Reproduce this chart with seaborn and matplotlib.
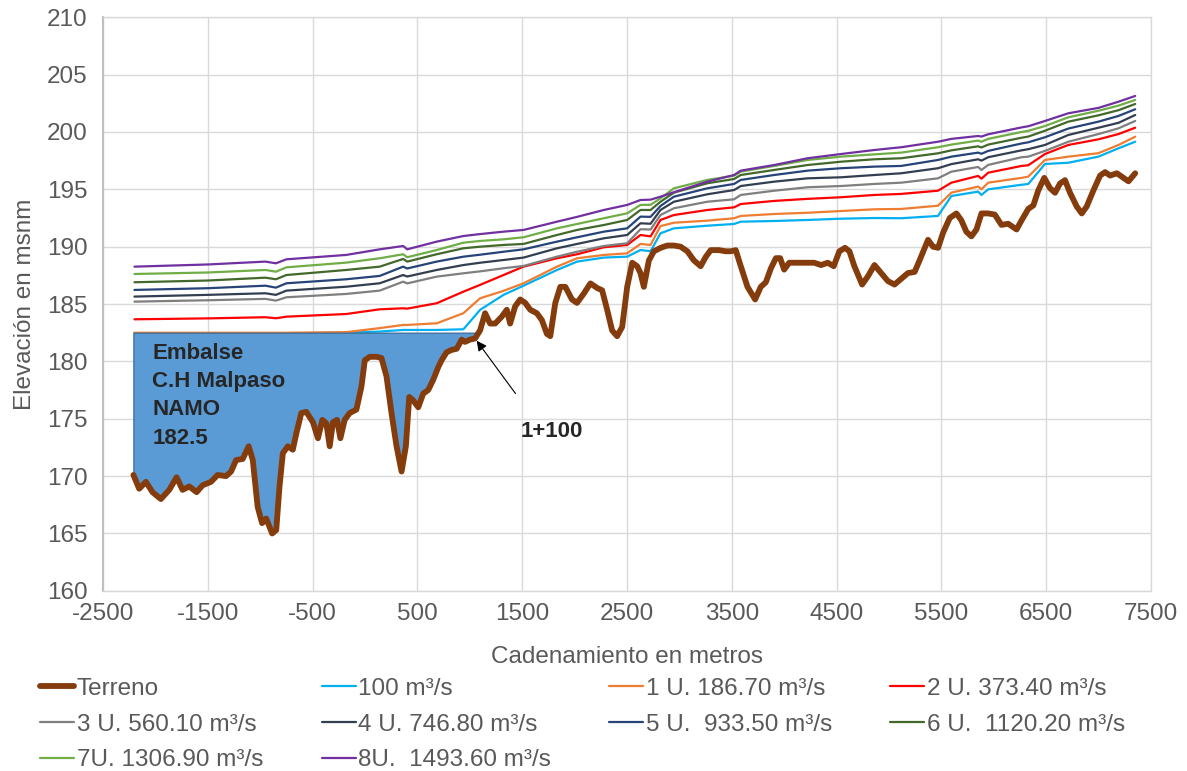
import matplotlib
matplotlib.use("Agg")
import matplotlib.pyplot as plt
import seaborn as sns
import pandas as pd
import numpy as np

# terreno natural: cadenamiento (m) y elevacion (msnm)
terreno_x = [-2210, -2155, -2091, -2028, -1948, -1868, -1798, -1741, -1677, -1607,
             -1550, -1470, -1406, -1326, -1278, -1230, -1167, -1110, -1071, -1024,
             -982, -943, -886, -847, -816, -784, -736, -689, -656, -608,
             -560, -497, -449, -407, -369, -337, -306, -267, -235, -194,
             -146, -82, -34, -2, 45, 110, 157, 205, 253, 301,
             349, 390, 422, 460, 508, 556, 603, 651, 699, 731,
             779, 827, 875, 923, 954, 1002, 1050, 1098, 1146, 1194,
             1242, 1305, 1353, 1385, 1433, 1481, 1529, 1577, 1640, 1688,
             1736, 1768, 1816, 1864, 1912, 1975, 2023, 2087, 2151, 2215,
             2263, 2311, 2358, 2406, 2454, 2502, 2550, 2597, 2629, 2661,
             2709, 2757, 2821, 2885, 2948, 3012, 3076, 3139, 3203, 3251,
             3299, 3378, 3442, 3490, 3538, 3586, 3650, 3723, 3777, 3825,
             3873, 3921, 3962, 4000, 4048, 4128, 4224, 4287, 4352, 4416,
             4473, 4527, 4581, 4623, 4670, 4744, 4798, 4862, 4926, 4990,
             5053, 5117, 5181, 5245, 5292, 5373, 5421, 5469, 5516, 5580,
             5644, 5691, 5739, 5787, 5835, 5883, 5947, 6010, 6074, 6138,
             6218, 6266, 6330, 6378, 6425, 6482, 6537, 6585, 6632, 6680,
             6728, 6792, 6840, 6887, 6951, 7015, 7063, 7111, 7175, 7238,
             7286, 7350]
terreno_z = [170.1, 168.9, 169.5, 168.6, 168.0, 168.8, 169.9, 168.8, 169.1, 168.6,
             169.2, 169.5, 170.1, 170.0, 170.4, 171.4, 171.5, 172.6, 171.4, 167.3,
             165.9, 166.3, 165.0, 165.3, 169.1, 172.0, 172.6, 172.3, 173.7, 175.5,
             175.6, 174.7, 173.3, 174.9, 174.6, 172.6, 174.7, 174.9, 173.3, 174.9,
             175.5, 175.8, 177.8, 180.1, 180.4, 180.4, 180.3, 178.7, 175.5, 172.6,
             170.4, 172.6, 176.9, 176.6, 176.0, 177.2, 177.5, 178.4, 179.5, 180.1,
             180.8, 181.0, 181.1, 181.9, 181.7, 181.9, 182.0, 182.7, 184.2, 183.3,
             183.3, 183.9, 184.5, 183.3, 184.8, 185.4, 185.1, 184.5, 184.2, 183.6,
             182.4, 182.2, 185.1, 186.5, 186.5, 185.4, 185.1, 185.9, 186.8, 186.4,
             186.2, 184.5, 182.7, 182.2, 183.0, 186.5, 188.6, 188.3, 187.7, 186.5,
             188.8, 189.6, 189.9, 190.1, 190.1, 190.0, 189.6, 188.8, 188.3, 189.1,
             189.7, 189.7, 189.6, 189.6, 189.7, 188.3, 186.5, 185.4, 186.5, 186.9,
             188.1, 189.0, 189.0, 188.0, 188.6, 188.6, 188.6, 188.6, 188.4, 188.6,
             188.3, 189.6, 189.9, 189.6, 188.3, 186.7, 187.4, 188.4, 187.7, 187.0,
             186.7, 187.2, 187.7, 187.8, 188.8, 190.6, 190.0, 189.9, 191.2, 192.5,
             192.9, 192.3, 191.3, 190.9, 191.5, 192.9, 192.9, 192.8, 191.9, 192.0,
             191.5, 192.3, 193.3, 193.6, 194.9, 196.0, 195.1, 194.7, 195.5, 195.8,
             194.7, 193.5, 192.9, 193.5, 194.9, 196.2, 196.5, 196.2, 196.4, 196.0,
             195.7, 196.4]

# perfiles de la superficie libre del agua
ws_x = [-2200, -1500, -950, -850, -750, -180, 140, 364, 403, 684,
        939, 1098, 1322, 1513, 1832, 2024, 2279, 2502, 2629, 2725,
        2820, 2948, 3267, 3522, 3586, 3905, 4224, 4543, 4862, 5117,
        5468, 5596, 5851, 5883, 5947, 6266, 6330, 6489, 6712, 6999,
        7191, 7350]
q_100 = [182.45, 182.45, 182.45, 182.45, 182.45, 182.5, 182.6, 182.74, 182.74, 182.74,
         182.8, 184.49, 185.8, 186.6, 187.97, 188.7, 189.05, 189.13, 189.71, 189.6,
         191.17, 191.6, 191.83, 191.98, 192.18, 192.24, 192.33, 192.44, 192.5, 192.48,
         192.68, 194.42, 194.8, 194.51, 195.0, 195.4, 195.47, 197.21, 197.32, 197.85,
         198.58, 199.15]
u1 = [182.5, 182.5, 182.5, 182.5, 182.5, 182.55, 182.9, 183.18, 183.18, 183.32,
      184.2, 185.5, 186.15, 186.81, 188.26, 188.99, 189.28, 189.42, 190.24, 190.15,
      191.8, 192.09, 192.27, 192.48, 192.68, 192.85, 192.96, 193.11, 193.26, 193.29,
      193.57, 194.71, 195.24, 195.0, 195.58, 196.0, 196.11, 197.56, 197.85, 198.15,
      198.87, 199.59]
u2 = [183.67, 183.75, 183.85, 183.76, 183.9, 184.13, 184.54, 184.63, 184.6, 185.07,
      186.08, 186.67, 187.53, 188.26, 188.99, 189.34, 189.95, 190.15, 191.02, 190.9,
      192.33, 192.76, 193.2, 193.43, 193.72, 193.99, 194.17, 194.31, 194.51, 194.6,
      194.88, 195.58, 196.17, 195.93, 196.45, 197.04, 197.1, 198.08, 198.87, 199.36,
      199.82, 200.37]
u3 = [185.21, 185.33, 185.45, 185.3, 185.59, 185.88, 186.17, 186.95, 186.8, 187.39,
      187.68, 187.85, 188.12, 188.32, 189.13, 189.56, 190.06, 190.3, 191.52, 191.5,
      192.76, 193.35, 193.92, 194.13, 194.51, 194.88, 195.18, 195.29, 195.47, 195.58,
      195.96, 196.54, 196.95, 196.69, 197.13, 197.8, 197.85, 198.35, 199.15, 199.82,
      200.32, 200.96]
u4 = [185.65, 185.8, 185.94, 185.8, 186.17, 186.51, 186.81, 187.53, 187.4, 187.97,
      188.4, 188.6, 188.84, 189.05, 189.86, 190.24, 190.73, 191.02, 192.04, 192.0,
      193.2, 193.92, 194.57, 194.94, 195.29, 195.67, 195.96, 196.05, 196.25, 196.4,
      196.84, 197.2, 197.62, 197.5, 197.8, 198.4, 198.5, 198.87, 199.74, 200.37,
      200.8, 201.48]
u5 = [186.23, 186.38, 186.6, 186.43, 186.81, 187.16, 187.45, 188.26, 188.1, 188.7,
      189.13, 189.3, 189.56, 189.77, 190.44, 190.82, 191.31, 191.6, 192.62, 192.6,
      193.55, 194.36, 195.09, 195.47, 195.82, 196.25, 196.63, 196.84, 196.98, 197.04,
      197.56, 197.85, 198.2, 198.1, 198.35, 199.0, 199.1, 199.54, 200.3, 200.9,
      201.4, 201.98]
u6 = [186.9, 187.05, 187.3, 187.16, 187.53, 187.97, 188.26, 188.93, 188.7, 189.34,
      189.86, 190.0, 190.15, 190.24, 191.02, 191.46, 191.89, 192.33, 193.2, 193.2,
      193.92, 194.71, 195.53, 195.9, 196.25, 196.69, 197.12, 197.41, 197.62, 197.71,
      198.14, 198.4, 198.75, 198.65, 198.9, 199.5, 199.6, 200.11, 200.9, 201.45,
      201.9, 202.44]
u7 = [187.62, 187.75, 187.97, 187.82, 188.2, 188.61, 188.99, 189.34, 189.08, 189.71,
      190.35, 190.5, 190.64, 190.82, 191.6, 191.98, 192.48, 192.91, 193.64, 193.65,
      194.22, 195.09, 195.82, 196.19, 196.54, 197.04, 197.56, 197.85, 198.05, 198.2,
      198.67, 198.9, 199.25, 199.15, 199.4, 200.0, 200.1, 200.52, 201.28, 201.85,
      202.3, 202.79]
u8 = [188.26, 188.45, 188.7, 188.55, 188.9, 189.28, 189.77, 190.06, 189.77, 190.44,
      190.93, 191.1, 191.31, 191.46, 192.18, 192.6, 193.2, 193.64, 194.07, 194.1,
      194.36, 194.75, 195.67, 196.25, 196.63, 197.12, 197.71, 198.08, 198.43, 198.67,
      199.15, 199.4, 199.65, 199.6, 199.8, 200.4, 200.5, 200.96, 201.63, 202.1,
      202.64, 203.14]

perfiles = ["100 m³/s", "1 U. 186.70 m³/s", "2 U. 373.40 m³/s", "3 U. 560.10 m³/s",
            "4 U. 746.80 m³/s", "5 U.  933.50 m³/s", "6 U.  1120.20 m³/s",
            "7U. 1306.90 m³/s", "8U.  1493.60 m³/s"]
colores = ["#00B0F0", "#ED7D31", "#FF0000", "#7F7F7F", "#333F50",
           "#264478", "#43682B", "#70AD47", "#7030A0"]

NAMO = 182.5

df_agua = pd.DataFrame(dict(zip(perfiles, [q_100, u1, u2, u3, u4, u5, u6, u7, u8])))
df_agua["x"] = ws_x
df_terreno = pd.DataFrame({"x": terreno_x, "z": terreno_z})

sns.set_style("whitegrid")
plt.rcParams["font.family"] = ["Liberation Sans", "DejaVu Sans"]
plt.rcParams["axes.unicode_minus"] = False
gris = "#595959"

fig, ax = plt.subplots(figsize=(11.87, 7.71), dpi=100)
fig.subplots_adjust(left=0.0868, right=0.9696, top=0.9776, bottom=0.2337)

for nombre, c in zip(perfiles, colores):
    sns.lineplot(data=df_agua, x="x", y=nombre, ax=ax, color=c, lw=1.6,
                 label=nombre, zorder=2)

# embalse hasta el NAMO
xt = df_terreno["x"].to_numpy()
zt = df_terreno["z"].to_numpy()
ax.fill_between(xt, zt, NAMO, where=(xt <= 1100) & (zt <= NAMO), interpolate=True,
                facecolor="#5B9BD5", edgecolor="#41719C", lw=1, zorder=3)

sns.lineplot(data=df_terreno, x="x", y="z", ax=ax, color="#843C0C", lw=4.2,
             label="Terreno", zorder=4, solid_joinstyle="round",
             solid_capstyle="round")

ax.text(-2030, 181.6, "Embalse\nC.H Malpaso\nNAMO\n182.5", fontsize=16,
        fontweight="bold", va="top", ha="left", linespacing=1.45, zorder=5)
ax.annotate("", xy=(1050, 182.0), xytext=(1452, 177.0), zorder=5,
            arrowprops=dict(arrowstyle="-|>", color="black", lw=0.8,
                            mutation_scale=15))
ax.text(1778, 173.9, "1+100", fontsize=16, fontweight="bold", ha="center",
        va="center", zorder=5)

ax.set_xlim(-2500, 7500)
ax.set_ylim(160, 210)
ax.set_xticks(range(-2500, 7501, 1000))
ax.set_yticks(range(160, 211, 5))
ax.tick_params(axis="both", length=0, labelsize=17.5, labelcolor=gris)
ax.tick_params(axis="y", pad=11)
ax.tick_params(axis="x", pad=9)
ax.grid(color="#D9D9D9", lw=1)
for s in ax.spines.values():
    s.set_color("#D9D9D9")
    s.set_linewidth(1)
ax.spines["left"].set_color("#BFBFBF")
ax.spines["left"].set_linewidth(1.5)

ax.set_xlabel("Cadenamiento en metros", fontsize=17.5, color=gris, labelpad=15)
ax.set_ylabel("Elevación en msnm", fontsize=17.5, color=gris, labelpad=8)

# leyenda en 4 columnas, ordenada por filas
handles, labels = ax.get_legend_handles_labels()
ax.get_legend().remove()
por_nombre = dict(zip(labels, handles))
orden = ["Terreno", perfiles[3], perfiles[7], perfiles[0], perfiles[4], perfiles[8],
         perfiles[1], perfiles[5], perfiles[2], perfiles[6]]
fig.legend([por_nombre[n] for n in orden], orden, loc="upper left",
           bbox_to_anchor=(0.034, 0.121), ncol=4, frameon=False, fontsize=17.5,
           labelcolor=gris, handlelength=1.4, handletextpad=0.1,
           columnspacing=2.4, labelspacing=0.57, borderpad=0, borderaxespad=0)

fig.savefig("out.png", dpi=100)
